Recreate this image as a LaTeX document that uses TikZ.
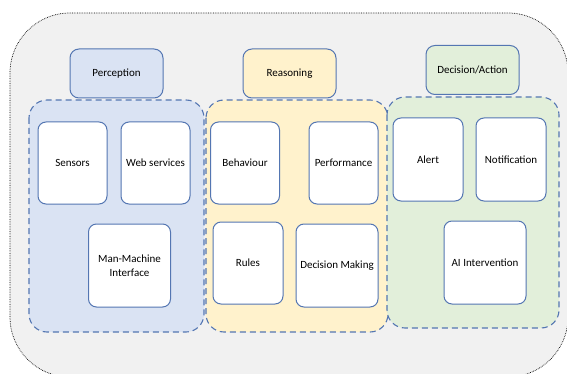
\documentclass[tikz,border=0pt]{standalone}
\usepackage{fontspec}
\setmainfont{Carlito}
\usetikzlibrary{positioning}
\definecolor{edgeblue}{RGB}{84,118,178}
\definecolor{percfill}{RGB}{218,227,243}
\definecolor{reasfill}{RGB}{255,242,204}
\definecolor{decifill}{RGB}{226,239,218}
\definecolor{outerfill}{RGB}{241,241,241}
\tikzset{%
outerbox/.style={draw=black, densely dotted, line width=0.7pt, fill=outerfill, rounded corners=60pt},
grpbox/.style={draw=edgeblue, line width=1.1pt, dash pattern=on 6pt off 4pt, rounded corners=18pt},
titlenode/.style={draw=edgeblue, line width=1pt, rounded corners=9pt, minimum width=93pt, minimum height=49pt, font=\fontsize{11}{13}\selectfont},
itemnode/.style={draw=edgeblue, line width=1pt, fill=white, rounded corners=8pt, minimum width=69pt, minimum height=82pt, align=center, font=\fontsize{11}{14}\selectfont},
widenode/.style={itemnode, minimum width=82pt, minimum height=83pt}
}
\begin{document}
\begin{tikzpicture}[x=1pt, y=-1pt]
		\useasboundingbox (0,0) rectangle (567,374);
		\clip (0,0) rectangle (567,374);
		\draw[outerbox] (10,13) rectangle (568,377);
		
		% groups
		\draw[grpbox, fill=percfill] (29,100) rectangle (204,332);
		\draw[grpbox, fill=reasfill] (206,100) rectangle (388,332);
		\draw[grpbox, fill=decifill] (387,97) rectangle (559,328);
		
		% titles
		\node[titlenode, fill=percfill] (perception) at (116.5,73.5) {Perception};
		\node[titlenode, fill=reasfill] (reasoning) at (289.5,73.5) {Reasoning};
		\node[titlenode, fill=decifill] (decision) at (472.5,70) {Decision/Action};
		
		% perception
		\node[itemnode] (sensors) at (72.5,163) {Sensors};
		\node[itemnode] (websvc) [right=13pt of sensors] {Web services};
		\node[widenode] (mmi) at (129.5,265.5) {Man-Machine\\Interface};
		
		% reasoning
		\node[itemnode] (behaviour) at (245,163) {Behaviour};
		\node[itemnode] (performance) at (343.5,163) {Performance};
		\node[itemnode, minimum width=70pt] (rules) at (248,263) {Rules};
		\node[widenode] (decmaking) at (337,265.5) {Decision Making};
		
		% decision / action
		\node[itemnode, minimum width=70pt, minimum height=83pt] (alert) at (428,159.5) {Alert};
		\node[itemnode, minimum width=70pt, minimum height=83pt] (notification) [right=12pt of alert] {Notification};
		\node[widenode] (aiint) at (485,262.5) {AI Intervention};
	\end{tikzpicture}
\end{document}
